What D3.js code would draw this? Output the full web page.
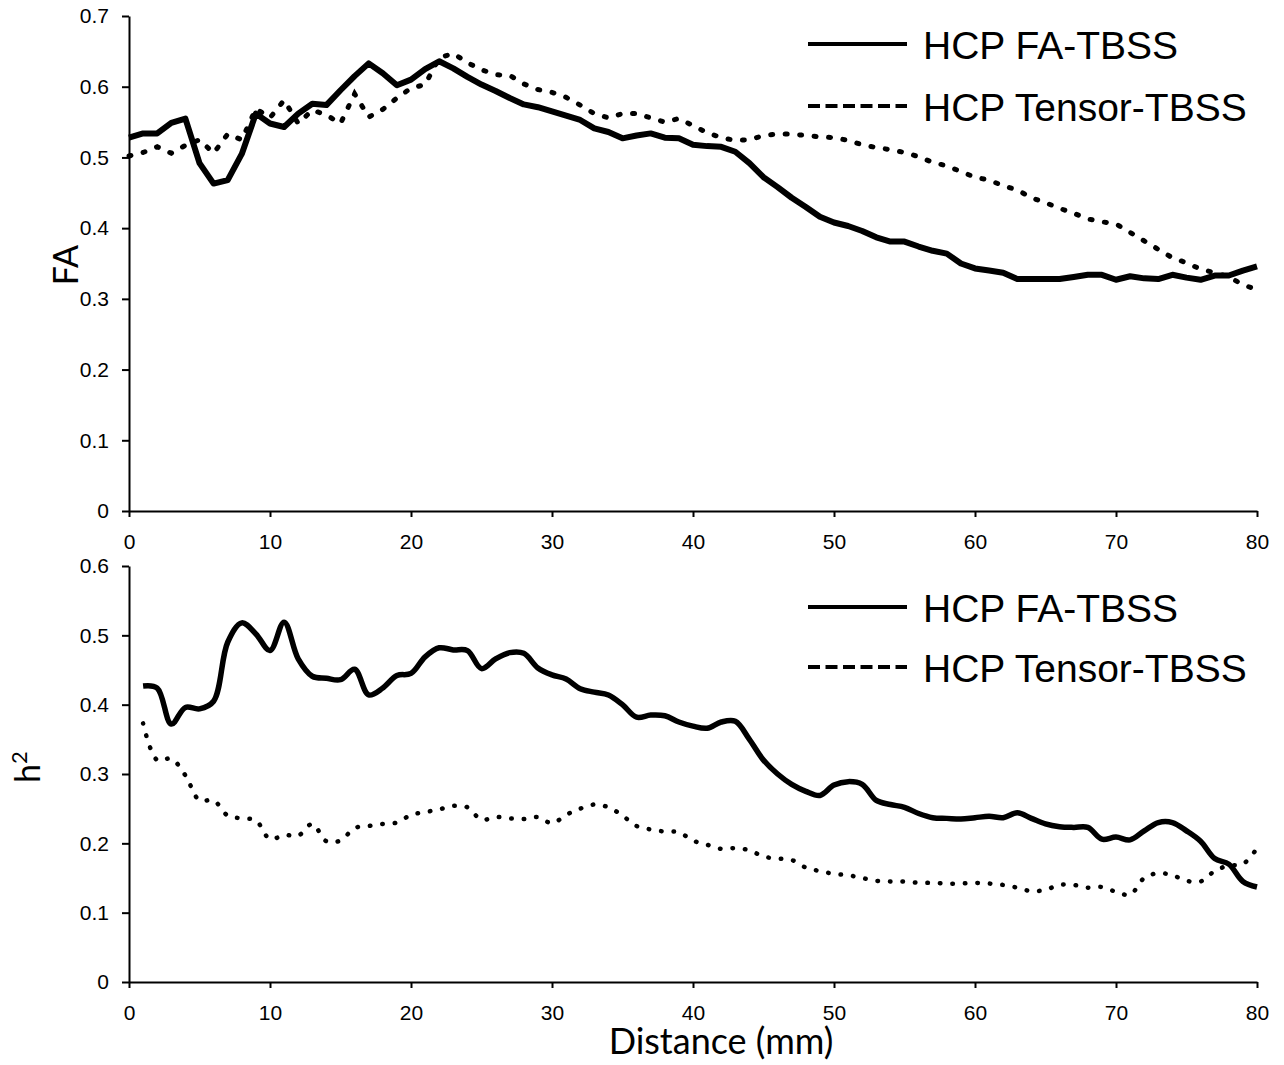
<!DOCTYPE html>
<html>
<head>
<meta charset="utf-8">
<script src="https://cdn.jsdelivr.net/npm/d3@7/dist/d3.min.js"></script>
<style>
  body { margin: 0; background: #fff; }
</style>
</head>
<body>
<svg width="1284" height="1065"></svg>
<script>
// distance along tract (mm), sampled every 1 mm
const distTop = d3.range(0, 81);
const distBottom = d3.range(1, 81);

// FA profile, HCP FA-TBSS (solid)
const faFA = [0.528, 0.534, 0.534, 0.549, 0.555, 0.492, 0.463, 0.468, 0.505, 0.562,
  0.548, 0.543, 0.562, 0.576, 0.574, 0.595, 0.615, 0.633, 0.619, 0.602,
  0.610, 0.625, 0.636, 0.626, 0.614, 0.603, 0.594, 0.584, 0.575, 0.571,
  0.565, 0.559, 0.553, 0.541, 0.536, 0.527, 0.531, 0.534, 0.528, 0.527,
  0.518, 0.516, 0.515, 0.508, 0.492, 0.472, 0.458, 0.443, 0.430, 0.416,
  0.408, 0.403, 0.396, 0.387, 0.381, 0.381, 0.374, 0.368, 0.364, 0.350,
  0.343, 0.340, 0.337, 0.328, 0.328, 0.328, 0.328, 0.331, 0.334, 0.334,
  0.327, 0.332, 0.329, 0.328, 0.334, 0.330, 0.327, 0.333, 0.333, 0.340, 0.346];

// FA profile, HCP Tensor-TBSS (dotted)
const faTensor = [0.502, 0.507, 0.515, 0.506, 0.517, 0.525, 0.506, 0.533, 0.525, 0.569,
  0.556, 0.581, 0.548, 0.567, 0.560, 0.548, 0.590, 0.557, 0.568, 0.584,
  0.598, 0.603, 0.641, 0.647, 0.634, 0.624, 0.617, 0.616, 0.604, 0.596,
  0.592, 0.585, 0.574, 0.562, 0.556, 0.562, 0.562, 0.556, 0.550, 0.555,
  0.545, 0.535, 0.528, 0.524, 0.525, 0.531, 0.533, 0.533, 0.531, 0.529,
  0.528, 0.524, 0.518, 0.514, 0.511, 0.507, 0.501, 0.493, 0.488, 0.480,
  0.472, 0.468, 0.460, 0.454, 0.443, 0.436, 0.428, 0.421, 0.413, 0.409,
  0.406, 0.394, 0.382, 0.370, 0.358, 0.351, 0.342, 0.337, 0.331, 0.320, 0.313];

// heritability, HCP FA-TBSS (solid)
const h2FA = [0.427, 0.424, 0.372, 0.396, 0.394, 0.405, 0.490, 0.518, 0.502, 0.478,
  0.519, 0.466, 0.441, 0.438, 0.436, 0.451, 0.414, 0.424, 0.442, 0.445,
  0.469, 0.482, 0.479, 0.478, 0.452, 0.466, 0.475, 0.474, 0.453, 0.443,
  0.437, 0.423, 0.418, 0.414, 0.400, 0.382, 0.385, 0.384, 0.375, 0.369,
  0.366, 0.375, 0.376, 0.350, 0.320, 0.300, 0.285, 0.275, 0.269, 0.284,
  0.289, 0.285, 0.262, 0.256, 0.252, 0.243, 0.237, 0.236, 0.235, 0.237,
  0.239, 0.237, 0.244, 0.236, 0.228, 0.224, 0.223, 0.223, 0.206, 0.209,
  0.205, 0.218, 0.230, 0.230, 0.218, 0.203, 0.178, 0.170, 0.145, 0.137];

// heritability, HCP Tensor-TBSS (dotted)
const h2Tensor = [0.373, 0.320, 0.322, 0.298, 0.262, 0.262, 0.240, 0.236, 0.233, 0.206,
  0.212, 0.211, 0.228, 0.203, 0.204, 0.222, 0.225, 0.228, 0.230, 0.241,
  0.245, 0.249, 0.254, 0.252, 0.234, 0.238, 0.236, 0.235, 0.238, 0.229,
  0.241, 0.250, 0.256, 0.252, 0.240, 0.225, 0.220, 0.217, 0.216, 0.204,
  0.198, 0.192, 0.193, 0.190, 0.181, 0.178, 0.176, 0.165, 0.160, 0.156,
  0.154, 0.150, 0.146, 0.145, 0.145, 0.143, 0.143, 0.142, 0.142, 0.143,
  0.142, 0.140, 0.136, 0.131, 0.133, 0.140, 0.140, 0.136, 0.137, 0.130,
  0.126, 0.150, 0.157, 0.154, 0.146, 0.145, 0.160, 0.168, 0.170, 0.193];

const xTicks = [0, 10, 20, 30, 40, 50, 60, 70, 80];
const faTicks = [0, 0.1, 0.2, 0.3, 0.4, 0.5, 0.6, 0.7];
const h2Ticks = [0, 0.1, 0.2, 0.3, 0.4, 0.5, 0.6];
const legendLabels = ["HCP FA-TBSS", "HCP Tensor-TBSS"];

let svg = d3.select("svg");
let x = d3.scaleLinear().domain([0, 80]).range([129, 1257]);
let yTop = d3.scaleLinear().domain([0, 0.7]).range([511, 16]);
let yBot = d3.scaleLinear().domain([0, 0.6]).range([982, 566]);

const tickFont = "'Liberation Sans', Arial, sans-serif";
const titleFont = "Lato, 'Open Sans', sans-serif";
const fmt = d => String(Math.round(d * 10) / 10);

function drawAxes(y, ticks) {
    let y0 = y(0);
    let xa = svg.append("g")
        .attr("transform", "translate(0," + y0 + ")")
        .call(d3.axisBottom(x).tickValues(xTicks).tickSize(6).tickSizeOuter(0).tickPadding(17));
    let ya = svg.append("g")
        .attr("transform", "translate(" + x(0) + ",0)")
        .call(d3.axisLeft(y).tickValues(ticks).tickFormat(fmt).tickSize(7).tickSizeOuter(0).tickPadding(13));
    [xa, ya].forEach(g => {
        g.selectAll("path, line").attr("stroke", "#000").attr("stroke-width", 2);
        g.selectAll("text").attr("fill", "#000")
            .style("font-family", tickFont).style("font-size", "21px");
    });
}

function drawLegend(yRow1, yRow2) {
    svg.append("line").attr("x1", 808).attr("x2", 907).attr("y1", yRow1).attr("y2", yRow1)
        .attr("stroke", "#000").attr("stroke-width", 4);
    svg.append("line").attr("x1", 808).attr("x2", 907).attr("y1", yRow2).attr("y2", yRow2)
        .attr("stroke", "#000").attr("stroke-width", 4).attr("stroke-dasharray", "12,5.5");
    [yRow1, yRow2].forEach((yy, i) => {
        svg.append("text").attr("x", 923).attr("y", yy + 15)
            .style("font-family", tickFont).style("font-size", "39px")
            .attr("fill", "#000").text(legendLabels[i]);
    });
}

// top panel: FA
drawAxes(yTop, faTicks);
let lineTop = (vals) => d3.line().x((d, i) => x(distTop[i])).y(d => yTop(d))(vals);
svg.append("path").attr("d", lineTop(faTensor))
    .attr("fill", "none").attr("stroke", "#000").attr("stroke-width", 5)
    .attr("stroke-linecap", "round").attr("stroke-dasharray", "2,12.5");
svg.append("path").attr("d", lineTop(faFA))
    .attr("fill", "none").attr("stroke", "#000").attr("stroke-width", 6)
    .attr("stroke-linejoin", "round");
drawLegend(44, 106);

// bottom panel: h2
drawAxes(yBot, h2Ticks);
let lineBot = (vals) => d3.line().curve(d3.curveCatmullRom)
    .x((d, i) => x(distBottom[i])).y(d => yBot(d))(vals);
svg.append("path").attr("d", lineBot(h2Tensor))
    .attr("fill", "none").attr("stroke", "#000").attr("stroke-width", 4.5)
    .attr("stroke-linecap", "round").attr("stroke-dasharray", "0.5,12");
svg.append("path").attr("d", lineBot(h2FA))
    .attr("fill", "none").attr("stroke", "#000").attr("stroke-width", 5.5)
    .attr("stroke-linejoin", "round");
drawLegend(607, 667);

// axis titles
svg.append("text").attr("transform", "translate(78,265) rotate(-90)")
    .attr("text-anchor", "middle").style("font-family", titleFont).style("font-size", "34px")
    .text("FA");
let h2Title = svg.append("text").attr("transform", "translate(40,767) rotate(-90)")
    .attr("text-anchor", "middle").style("font-family", titleFont).style("font-size", "34px");
h2Title.append("tspan").text("h");
h2Title.append("tspan").attr("dy", -13).style("font-size", "22px").text("2");
svg.append("text").attr("x", 721).attr("y", 1054)
    .attr("text-anchor", "middle").style("font-family", titleFont).style("font-size", "36px")
    .text("Distance (mm)");
</script>
</body>
</html>
